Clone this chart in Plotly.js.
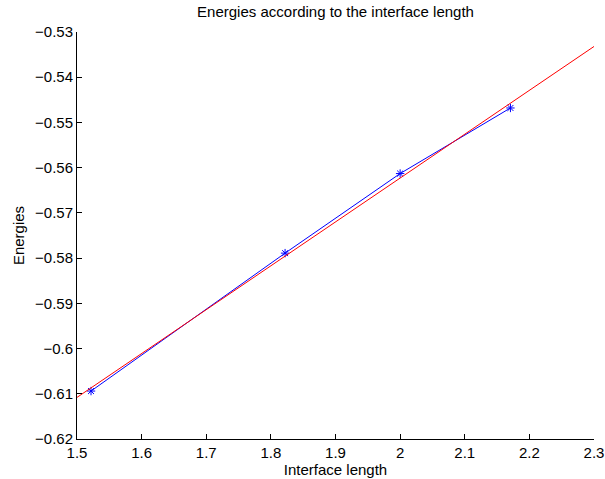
<!DOCTYPE html>
<html>
<head>
<meta charset="utf-8">
<script src="https://cdn.plot.ly/plotly-3.0.1.min.js"></script>
<style>html,body{margin:0;padding:0;background:#fff;}#chart{width:605px;height:479px;}</style>
</head>
<body>
<div id="chart"></div>
<script>
const interfaceLength = [1.5217, 1.822, 2.0, 2.1707];
const energies = [-0.6094, -0.5789, -0.5613, -0.5468];
const fitX = [1.5, 2.3];
const fitY = [-0.6108, -0.5332];
const xTickVals = [1.5, 1.6, 1.7, 1.8, 1.9, 2.0, 2.1, 2.2, 2.3];
const xTickText = ["1.5", "1.6", "1.7", "1.8", "1.9", "2", "2.1", "2.2", "2.3"];
const yTickVals = [-0.53, -0.54, -0.55, -0.56, -0.57, -0.58, -0.59, -0.6, -0.61, -0.62];
const yTickText = ["\u22120.53", "\u22120.54", "\u22120.55", "\u22120.56", "\u22120.57", "\u22120.58", "\u22120.59", "\u22120.6", "\u22120.61", "\u22120.62"];

const font = {family: "Liberation Sans, Arial, sans-serif", size: 15, color: "#000"};

const traces = [
  {x: interfaceLength, y: energies, mode: "lines+markers", type: "scatter",
   line: {color: "#0000ff", width: 1},
   marker: {symbol: "asterisk-open", size: 7, color: "#0000ff", line: {color: "#0000ff", width: 1}}},
  {x: fitX, y: fitY, mode: "lines", type: "scatter",
   line: {color: "#ff0000", width: 1}}
];

const layout = {
  width: 605, height: 479,
  margin: {l: 77, r: 11, t: 32, b: 40},
  paper_bgcolor: "#fff", plot_bgcolor: "#fff",
  showlegend: false,
  font: font,
  title: {text: "Energies according to the interface length", font: {family: font.family, size: 15, color: "#000"},
          xref: "paper", x: 0.5, xanchor: "center", yref: "container", y: 0.986, yanchor: "top"},
  xaxis: {range: [1.5, 2.3], tickvals: xTickVals, ticktext: xTickText, ticks: "inside", ticklen: 5, tickcolor: "#000",
          showline: true, linecolor: "#000", linewidth: 1, showgrid: false, zeroline: false, mirror: false,
          tickfont: font, title: {text: "Interface length", font: font, standoff: 0}},
  yaxis: {range: [-0.62, -0.53], tickvals: yTickVals, ticktext: yTickText, ticks: "inside", ticklen: 5, tickcolor: "#000",
          showline: true, linecolor: "#000", linewidth: 1, showgrid: false, zeroline: false, mirror: false,
          tickfont: font, title: {text: "Energies", font: font, standoff: 6}}
};

Plotly.newPlot("chart", traces, layout, {displayModeBar: false, staticPlot: true});
</script>
</body>
</html>
